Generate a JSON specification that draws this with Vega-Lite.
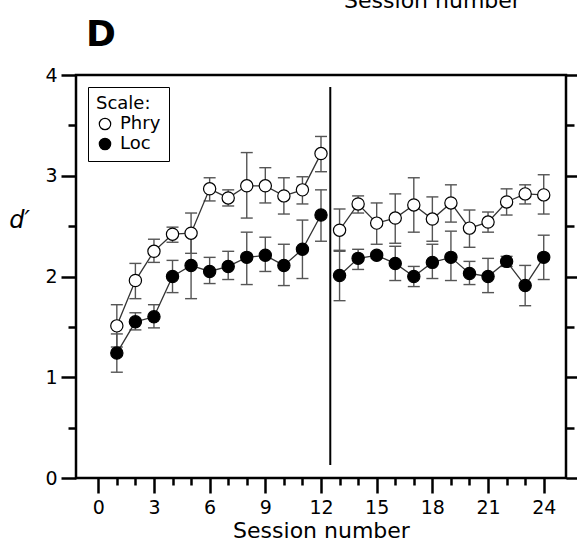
{
  "$schema": "https://vega.github.io/schema/vega-lite/v6.json",
  "width": 490,
  "height": 403,
  "autosize": "none",
  "padding": {"left": 76, "top": 75, "right": 11, "bottom": 70},
  "background": "white",
  "title": {"text": "D", "anchor": "start", "frame": "group", "font": "DejaVu Sans", "fontSize": 36, "fontWeight": "bold", "color": "black", "dx": 10, "offset": -93, "baseline": "alphabetic"},
  "config": {
    "view": {"stroke": "black", "strokeWidth": 2.5},
    "font": "DejaVu Sans"
  },
  "datasets": {
    "sessions": [
      {"session": 1, "scale": "Phry", "phase": 1, "d": 1.51, "lo": 1.30, "hi": 1.72},
      {"session": 2, "scale": "Phry", "phase": 1, "d": 1.96, "lo": 1.78, "hi": 2.13},
      {"session": 3, "scale": "Phry", "phase": 1, "d": 2.25, "lo": 2.14, "hi": 2.37},
      {"session": 4, "scale": "Phry", "phase": 1, "d": 2.42, "lo": 2.34, "hi": 2.49},
      {"session": 5, "scale": "Phry", "phase": 1, "d": 2.43, "lo": 2.23, "hi": 2.63},
      {"session": 6, "scale": "Phry", "phase": 1, "d": 2.87, "lo": 2.75, "hi": 2.98},
      {"session": 7, "scale": "Phry", "phase": 1, "d": 2.78, "lo": 2.70, "hi": 2.86},
      {"session": 8, "scale": "Phry", "phase": 1, "d": 2.90, "lo": 2.58, "hi": 3.23},
      {"session": 9, "scale": "Phry", "phase": 1, "d": 2.90, "lo": 2.73, "hi": 3.08},
      {"session": 10, "scale": "Phry", "phase": 1, "d": 2.80, "lo": 2.62, "hi": 2.98},
      {"session": 11, "scale": "Phry", "phase": 1, "d": 2.86, "lo": 2.72, "hi": 2.99},
      {"session": 12, "scale": "Phry", "phase": 1, "d": 3.22, "lo": 3.04, "hi": 3.39},
      {"session": 13, "scale": "Phry", "phase": 2, "d": 2.46, "lo": 2.25, "hi": 2.67},
      {"session": 14, "scale": "Phry", "phase": 2, "d": 2.72, "lo": 2.63, "hi": 2.80},
      {"session": 15, "scale": "Phry", "phase": 2, "d": 2.53, "lo": 2.32, "hi": 2.73},
      {"session": 16, "scale": "Phry", "phase": 2, "d": 2.58, "lo": 2.33, "hi": 2.82},
      {"session": 17, "scale": "Phry", "phase": 2, "d": 2.71, "lo": 2.44, "hi": 2.98},
      {"session": 18, "scale": "Phry", "phase": 2, "d": 2.57, "lo": 2.35, "hi": 2.79},
      {"session": 19, "scale": "Phry", "phase": 2, "d": 2.73, "lo": 2.54, "hi": 2.91},
      {"session": 20, "scale": "Phry", "phase": 2, "d": 2.48, "lo": 2.29, "hi": 2.66},
      {"session": 21, "scale": "Phry", "phase": 2, "d": 2.54, "lo": 2.44, "hi": 2.64},
      {"session": 22, "scale": "Phry", "phase": 2, "d": 2.74, "lo": 2.61, "hi": 2.87},
      {"session": 23, "scale": "Phry", "phase": 2, "d": 2.82, "lo": 2.72, "hi": 2.91},
      {"session": 24, "scale": "Phry", "phase": 2, "d": 2.81, "lo": 2.62, "hi": 3.01},
      {"session": 1, "scale": "Loc", "phase": 1, "d": 1.24, "lo": 1.05, "hi": 1.43},
      {"session": 2, "scale": "Loc", "phase": 1, "d": 1.55, "lo": 1.47, "hi": 1.64},
      {"session": 3, "scale": "Loc", "phase": 1, "d": 1.60, "lo": 1.49, "hi": 1.72},
      {"session": 4, "scale": "Loc", "phase": 1, "d": 2.00, "lo": 1.84, "hi": 2.16},
      {"session": 5, "scale": "Loc", "phase": 1, "d": 2.11, "lo": 1.78, "hi": 2.44},
      {"session": 6, "scale": "Loc", "phase": 1, "d": 2.05, "lo": 1.93, "hi": 2.19},
      {"session": 7, "scale": "Loc", "phase": 1, "d": 2.10, "lo": 1.97, "hi": 2.25},
      {"session": 8, "scale": "Loc", "phase": 1, "d": 2.19, "lo": 1.92, "hi": 2.44},
      {"session": 9, "scale": "Loc", "phase": 1, "d": 2.21, "lo": 2.05, "hi": 2.39},
      {"session": 10, "scale": "Loc", "phase": 1, "d": 2.11, "lo": 1.91, "hi": 2.32},
      {"session": 11, "scale": "Loc", "phase": 1, "d": 2.27, "lo": 1.98, "hi": 2.56},
      {"session": 12, "scale": "Loc", "phase": 1, "d": 2.61, "lo": 2.35, "hi": 2.86},
      {"session": 13, "scale": "Loc", "phase": 2, "d": 2.01, "lo": 1.76, "hi": 2.26},
      {"session": 14, "scale": "Loc", "phase": 2, "d": 2.18, "lo": 2.07, "hi": 2.27},
      {"session": 15, "scale": "Loc", "phase": 2, "d": 2.21, "lo": 2.18, "hi": 2.24},
      {"session": 16, "scale": "Loc", "phase": 2, "d": 2.13, "lo": 1.96, "hi": 2.30},
      {"session": 17, "scale": "Loc", "phase": 2, "d": 2.00, "lo": 1.90, "hi": 2.10},
      {"session": 18, "scale": "Loc", "phase": 2, "d": 2.14, "lo": 1.98, "hi": 2.32},
      {"session": 19, "scale": "Loc", "phase": 2, "d": 2.19, "lo": 1.96, "hi": 2.45},
      {"session": 20, "scale": "Loc", "phase": 2, "d": 2.03, "lo": 1.92, "hi": 2.15},
      {"session": 21, "scale": "Loc", "phase": 2, "d": 2.00, "lo": 1.84, "hi": 2.18},
      {"session": 22, "scale": "Loc", "phase": 2, "d": 2.15, "lo": 2.10, "hi": 2.20},
      {"session": 23, "scale": "Loc", "phase": 2, "d": 1.91, "lo": 1.71, "hi": 2.11},
      {"session": 24, "scale": "Loc", "phase": 2, "d": 2.19, "lo": 1.97, "hi": 2.41}
    ],
    "divider": [{"session": 12.5, "lo": 0.13, "hi": 3.88}]
  },
  "layer": [
    {
      "data": {"name": "divider"},
      "mark": {"type": "rule", "stroke": "black", "strokeWidth": 2},
      "encoding": {
        "x": {
          "field": "session", "type": "quantitative",
          "scale": {"domain": [-1.2, 25.2], "nice": false, "zero": false},
          "axis": {
            "orient": "bottom", "title": "Session number", "domain": false, "grid": false,
            "values": [0,1,2,3,4,5,6,7,8,9,10,11,12,13,14,15,16,17,18,19,20,21,22,23,24],
            "labelExpr": "datum.value % 3 === 0 ? datum.label : ''",
            "tickSize": {"condition": {"test": "datum.value % 3 === 0", "value": 15}, "value": 7},
            "tickWidth": 2.5, "tickColor": "black",
            "labelFont": "DejaVu Sans", "labelFontSize": 19, "labelColor": "black", "labelPadding": 5,
            "titleFont": "DejaVu Sans", "titleFontSize": 22, "titleFontWeight": "normal", "titleColor": "black", "titlePadding": 3
          }
        },
        "y": {
          "field": "lo", "type": "quantitative",
          "scale": {"domain": [0, 4], "nice": false, "zero": false},
          "axis": {
            "orient": "left", "title": "d′", "domain": false, "grid": false,
            "values": [0,0.5,1,1.5,2,2.5,3,3.5,4],
            "labelExpr": "datum.value % 1 === 0 ? format(datum.value, 'd') : ''",
            "tickSize": {"condition": {"test": "datum.value % 1 === 0", "value": 15}, "value": 8},
            "tickWidth": 2.5, "tickColor": "black",
            "labelFont": "DejaVu Sans", "labelFontSize": 19, "labelColor": "black", "labelPadding": 4,
            "titleFont": "DejaVu Sans", "titleFontSize": 24, "titleFontStyle": "italic", "titleFontWeight": "normal", "titleColor": "black",
            "titleAngle": 0, "titleX": -57, "titleY": 145, "titleAlign": "center", "titleBaseline": "middle"
          }
        },
        "y2": {"field": "hi"}
      }
    },
    {
      "data": {"name": "sessions"},
      "mark": {"type": "rule", "stroke": "#555555", "strokeWidth": 1.4},
      "encoding": {
        "x": {
          "field": "session", "type": "quantitative",
          "axis": {
            "orient": "top", "title": "Session number", "domain": false, "grid": false, "ticks": false, "labels": false,
            "titleFont": "DejaVu Sans", "titleFontSize": 22, "titleFontWeight": "normal", "titleColor": "black",
            "titleX": 356, "titleY": -68, "titleAlign": "center", "titleBaseline": "alphabetic"
          }
        },
        "y": {
          "field": "lo", "type": "quantitative",
          "axis": {
            "orient": "right", "title": null, "domain": false, "grid": false, "labels": false,
            "values": [0,0.5,1,1.5,2,2.5,3,3.5,4],
            "tickSize": {"condition": {"test": "datum.value % 1 === 0", "value": 15}, "value": 8},
            "tickWidth": 2.5, "tickColor": "black"
          }
        },
        "y2": {"field": "hi"}
      }
    },
    {
      "data": {"name": "sessions"},
      "mark": {"type": "tick", "orient": "horizontal", "size": 12, "thickness": 1.4, "color": "#555555", "opacity": 1},
      "encoding": {
        "x": {"field": "session", "type": "quantitative", "axis": null},
        "y": {"field": "lo", "type": "quantitative", "axis": null}
      }
    },
    {
      "data": {"name": "sessions"},
      "mark": {"type": "tick", "orient": "horizontal", "size": 12, "thickness": 1.4, "color": "#555555", "opacity": 1},
      "encoding": {
        "x": {"field": "session", "type": "quantitative", "axis": null},
        "y": {"field": "hi", "type": "quantitative", "axis": null}
      }
    },
    {
      "data": {"name": "sessions"},
      "mark": {"type": "line", "stroke": "#333333", "strokeWidth": 1.3},
      "encoding": {
        "x": {"field": "session", "type": "quantitative", "axis": null},
        "y": {"field": "d", "type": "quantitative", "axis": null},
        "detail": [{"field": "scale"}, {"field": "phase"}]
      }
    },
    {
      "data": {"name": "sessions"},
      "mark": {"type": "point", "shape": "circle", "filled": true, "size": 150, "stroke": "black", "strokeWidth": 1.2, "opacity": 1},
      "encoding": {
        "x": {"field": "session", "type": "quantitative", "axis": null},
        "y": {"field": "d", "type": "quantitative", "axis": null},
        "fill": {
          "field": "scale", "type": "nominal",
          "scale": {"domain": ["Phry", "Loc"], "range": ["white", "black"]},
          "legend": {
            "orient": "top-left", "offset": 12, "title": "Scale:",
            "titleFont": "DejaVu Sans", "titleFontSize": 18, "titleFontWeight": "normal", "titleColor": "black", "titlePadding": 2,
            "labelFont": "DejaVu Sans", "labelFontSize": 18, "labelColor": "black", "labelOffset": 6,
            "strokeColor": "black", "fillColor": "white", "padding": 8,
            "symbolType": "circle", "symbolSize": 130, "symbolStrokeColor": "black", "symbolStrokeWidth": 1.2,
            "rowPadding": 2
          }
        }
      }
    }
  ],
  "resolve": {"axis": {"x": "independent", "y": "independent"}}
}
